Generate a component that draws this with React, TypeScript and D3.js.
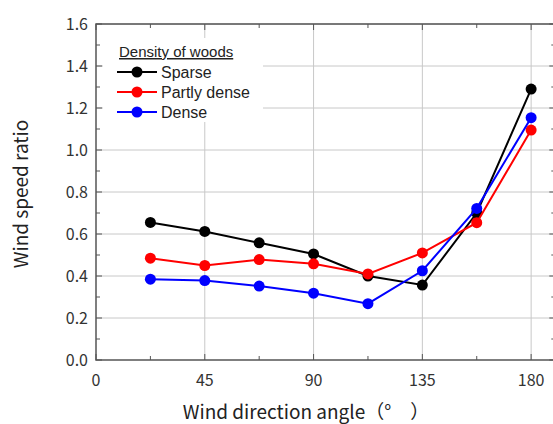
import React from "react";
import * as d3 from "d3";

const angles = [22.5, 45, 67.5, 90, 112.5, 135, 157.5, 180];
const sparse = [0.655, 0.612, 0.558, 0.505, 0.4, 0.357, 0.7, 1.29];
const partlyDense = [0.485, 0.45, 0.478, 0.458, 0.41, 0.51, 0.654, 1.095];
const dense = [0.385, 0.378, 0.352, 0.318, 0.268, 0.425, 0.722, 1.154];
const seriesNames = ["Sparse", "Partly dense", "Dense"];
const seriesColors = ["#000000", "#ff0000", "#0000ff"];
const xTicks = [0, 45, 90, 135, 180];
const yTicks = [0, 0.2, 0.4, 0.6, 0.8, 1.0, 1.2, 1.4, 1.6];

export default function App() {
  const x = d3.scaleLinear().domain([0, 190]).range([96, 555.3]);
  const y = d3.scaleLinear().domain([0, 1.6]).range([360, 24]);
  const series = [sparse, partlyDense, dense];
  const line = d3
    .line<number>()
    .x((_, i) => x(angles[i]))
    .y((d) => y(d));
  const xMinor = d3.range(0, 190, 22.5);
  const yMinor = d3.range(0, 1.61, 0.1);
  const font = "'Noto Sans CJK JP', 'Noto Sans', Arial, sans-serif";
  const legendFont = "'Liberation Sans', Arial, sans-serif";
  const axisColor = "#555";
  return (
    <svg
      width={553}
      height={424}
      style={{ position: "absolute", left: 0, top: 0, background: "#fff" }}
      fontFamily={font}
    >
      <rect x={0} y={0} width={553} height={424} fill="#fff" />
      {/* grid */}
      {xTicks.slice(1).map((t) => (
        <line key={"gx" + t} x1={x(t)} x2={x(t)} y1={y(0)} y2={y(1.6)} stroke="#c8c8c8" strokeWidth={1} />
      ))}
      {yTicks.slice(1).map((t) => (
        <line key={"gy" + t} x1={x(0)} x2={x(190)} y1={y(t)} y2={y(t)} stroke="#c8c8c8" strokeWidth={1} />
      ))}
      {/* legend background */}
      <rect x={103} y={38} width={160} height={84} fill="#fff" />
      {/* frame */}
      <rect x={x(0)} y={y(1.6)} width={x(190) - x(0)} height={y(0) - y(1.6)} fill="none" stroke={axisColor} strokeWidth={1.5} />
      {/* ticks */}
      {xMinor.map((t) => {
        const major = t % 45 === 0;
        const len = major ? 6 : 4;
        return (
          <g key={"xt" + t}>
            <line x1={x(t)} x2={x(t)} y1={y(0)} y2={y(0) - len} stroke={axisColor} strokeWidth={1} />
            <line x1={x(t)} x2={x(t)} y1={y(1.6)} y2={y(1.6) + len} stroke={axisColor} strokeWidth={1} />
          </g>
        );
      })}
      {yMinor.map((t, i) => {
        const major = i % 2 === 0;
        const len = major ? 6 : 4;
        return (
          <g key={"yt" + i}>
            <line x1={x(0)} x2={x(0) + len} y1={y(t)} y2={y(t)} stroke={axisColor} strokeWidth={1} />
            <line x1={x(190)} x2={x(190) - len} y1={y(t)} y2={y(t)} stroke={axisColor} strokeWidth={1} />
          </g>
        );
      })}
      {/* tick labels */}
      {xTicks.map((t) => (
        <text key={"xl" + t} x={x(t)} y={386} textAnchor="middle" fontSize={16} fill="#333">
          {t}
        </text>
      ))}
      {yTicks.map((t) => (
        <text key={"yl" + t} x={88} y={y(t) + 6} textAnchor="end" fontSize={16} fill="#333">
          {t.toFixed(1)}
        </text>
      ))}
      {/* axis titles */}
      <text x={306} y={419} textAnchor="middle" fontSize={19} fill="#222">
        Wind direction angle（°　）
      </text>
      <text transform="translate(28,194) rotate(-90)" textAnchor="middle" fontSize={19} fill="#222">
        Wind speed ratio
      </text>
      {/* series */}
      {series.map((s, si) => (
        <g key={"s" + si}>
          <path d={line(s) || ""} fill="none" stroke={seriesColors[si]} strokeWidth={2} />
          {s.map((v, i) => (
            <circle key={i} cx={x(angles[i])} cy={y(v)} r={5.5} fill={seriesColors[si]} />
          ))}
        </g>
      ))}
      {/* legend */}
      <g fontFamily={legendFont}>
        <text x={119} y={57} fontSize={15} fill="#222" textDecoration="underline">
          Density of woods
        </text>
        {seriesNames.map((n, i) => (
          <g key={"lg" + i}>
            <line x1={117} x2={157} y1={72 + i * 20} y2={72 + i * 20} stroke={seriesColors[i]} strokeWidth={2} />
            <circle cx={137} cy={72 + i * 20} r={5.5} fill={seriesColors[i]} />
            <text x={161} y={77.5 + i * 20} fontSize={16} fill="#222">
              {n}
            </text>
          </g>
        ))}
      </g>
    </svg>
  );
}
